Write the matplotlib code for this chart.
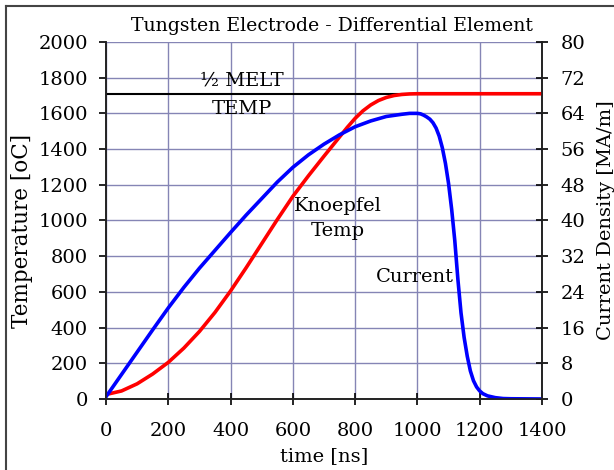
import numpy as np
import matplotlib.pyplot as plt
from matplotlib.lines import Line2D

plt.rcParams['font.family'] = ['DejaVu Serif']
plt.rcParams['font.size'] = 14

# temperature of the electrode element [oC]
t_temp = [0, 50, 100, 150, 200, 250, 300, 350, 400, 450, 500, 550, 600, 650,
          700, 750, 775, 800, 825, 850, 875, 900, 925, 950, 975, 1000, 1400]
temp = [25, 45, 85, 140, 205, 285, 378, 485, 605, 735, 870, 1005, 1135, 1250,
        1360, 1468, 1522, 1572, 1614, 1647, 1672, 1689, 1700, 1706, 1709, 1710, 1710]

# current density [MA/m]
t_cur = [0, 50, 100, 150, 200, 250, 300, 350, 400, 450, 500, 550, 600, 650,
         700, 750, 800, 850, 900, 950, 975, 1000, 1010, 1020, 1030, 1040,
         1050, 1060, 1070, 1080, 1090, 1100, 1110, 1120, 1130, 1140, 1150,
         1160, 1170, 1180, 1190, 1200, 1210, 1225, 1250, 1275, 1300, 1400]
cur = [0.5, 5.5, 10.5, 15.5, 20.4, 25.0, 29.3, 33.3, 37.3, 41.2, 44.9, 48.6,
       51.9, 54.7, 57.1, 59.2, 61.0, 62.3, 63.3, 63.8, 64.0, 64.0, 63.9, 63.6,
       63.2, 62.7, 61.9, 60.7, 58.9, 56.3, 52.8, 48.3, 42.5, 35.5, 26.8, 19.3,
       13.8, 9.6, 6.3, 4.1, 2.7, 1.8, 1.2, 0.7, 0.3, 0.1, 0.05, 0]

half_melt = 1710

fig = plt.figure(figsize=(6.14, 4.70), dpi=100)
ax = fig.add_axes([0.1726, 0.1511, 0.7101, 0.7596])
ax2 = ax.twinx()

grid_col = '#8585b5'
ax.set_xlim(0, 1400)
ax.set_ylim(0, 2000)
ax2.set_ylim(0, 80)
ax.set_xticks(np.arange(0, 1401, 200))
ax.set_yticks(np.arange(0, 2001, 200))
ax2.set_yticks(np.arange(0, 81, 8))
ax.grid(True, color=grid_col, lw=1)
ax.set_axisbelow(True)

ax.axhline(half_melt, color='black', lw=1.5, zorder=2)
ax.plot(t_temp, temp, color='#ff0000', lw=2.6, zorder=3)
ax2.plot(t_cur, cur, color='#0000ff', lw=2.6)

for a in (ax, ax2):
    for s in a.spines.values():
        s.set_linewidth(1.2)
        s.set_color('#222222')
ax.spines['top'].set_visible(False)
ax2.spines['top'].set_visible(False)

ax.tick_params(axis='y', direction='out', length=5, width=1.2, pad=8)
ax.tick_params(axis='x', direction='inout', length=9, width=1.2, pad=12)
ax2.tick_params(axis='y', direction='inout', length=9, width=1.2, pad=9)

ax.set_xlabel('time [ns]', labelpad=5)
ax.set_ylabel('Temperature [oC]', fontsize=15.5)
ax.yaxis.set_label_coords(-0.167, 0.47)
ax2.set_ylabel('Current Density [MA/m]', labelpad=8)

ax.text(437, 1782, '½ MELT', ha='center', va='center')
ax.text(437, 1625, 'TEMP', ha='center', va='center')
ax.text(745, 1081, 'Knoepfel', ha='center', va='center')
ax.text(745, 941, 'Temp', ha='center', va='center')
ax.text(992, 683, 'Current', ha='center', va='center')

fig.text(332 / 614, 1 - 26 / 470, 'Tungsten Electrode - Differential Element',
         ha='center', va='center', fontsize=13.6)

# frame round the figure
fig.add_artist(Line2D([6 / 614, 6 / 614], [0, 1 - 6 / 470], transform=fig.transFigure,
                      color='#444444', lw=1.5))
fig.add_artist(Line2D([6 / 614, 1], [1 - 6 / 470, 1 - 6 / 470], transform=fig.transFigure,
                      color='#444444', lw=1.5))

fig.savefig('out.png', dpi=100)
